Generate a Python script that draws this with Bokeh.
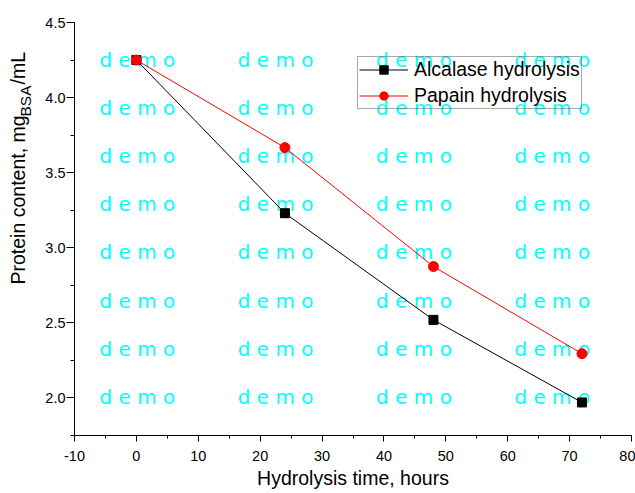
from bokeh.plotting import figure
from bokeh.models import (Range1d, SingleIntervalTicker, NumeralTickFormatter,
                          Legend, LegendItem, Label)
from bokeh.layouts import row
from bokeh.embed import file_html
from bokeh.resources import INLINE
import math

# ---- data ----
time_h = [0, 24, 48, 72]
alcalase = [4.25, 3.23, 2.52, 1.97]
papain = [4.25, 3.667, 2.875, 2.295]
series_names = ["Alcalase hydrolysis", "Papain hydrolysis"]
x_label = "Hydrolysis time, hours"
y_label_main = "Protein content, mg"
y_label_sub = "BSA"
y_label_tail = "/mL"
watermark = "d e m o"

FONT = "Liberation Sans"
H = 493
LEFT_W = 42

# ---- main plot ----
p = figure(width=635 - LEFT_W, height=H, output_backend="svg", toolbar_location=None,
           x_range=Range1d(-10, 80), y_range=Range1d(1.75, 4.5),
           min_border_left=74 - LEFT_W, min_border_right=4, min_border_top=22,
           min_border_bottom=58)
p.outline_line_color = None
p.xgrid.visible = False
p.ygrid.visible = False
p.background_fill_color = "white"
p.border_fill_color = "white"

xa = p.xaxis[0]
xa.ticker = SingleIntervalTicker(interval=10, num_minor_ticks=2)
xa.formatter = NumeralTickFormatter(format="0")
ya = p.yaxis[0]
ya.ticker = SingleIntervalTicker(interval=0.5, num_minor_ticks=2)
ya.formatter = NumeralTickFormatter(format="0.0")
for ax in (xa, ya):
    ax.axis_line_color = "black"
    ax.major_tick_line_color = "black"
    ax.minor_tick_line_color = "black"
    ax.major_tick_in = 0
    ax.minor_tick_in = 0
    ax.major_label_text_font = FONT
    ax.major_label_text_font_size = "14.5px"
    ax.major_label_text_color = "black"
xa.major_tick_out = 6
xa.minor_tick_out = 3
ya.major_tick_out = 8
ya.minor_tick_out = 4
xa.major_label_standoff = 9
ya.major_label_standoff = 1
xa.axis_label = x_label
xa.axis_label_text_font = FONT
xa.axis_label_text_font_size = "19.5px"
xa.axis_label_text_font_style = "normal"
xa.axis_label_text_color = "black"
xa.axis_label_standoff = 3

# watermark (under the data)
for col in range(4):
    for r in range(8):
        p.add_layout(Label(x=25 + col * 138.3, y=376 - r * 48.2,
                           x_units="screen", y_units="screen",
                           text=watermark, text_color="#00FFFF",
                           text_font="DejaVu Sans", text_font_size="20px",
                           text_baseline="alphabetic", level="underlay"))

# data
l1 = p.line(time_h, alcalase, line_color="black", line_width=1)
s1 = p.scatter(time_h, alcalase, marker="square", size=9,
               fill_color="black", line_color="black")
l2 = p.line(time_h, papain, line_color="red", line_width=1)
s2 = p.scatter(time_h, papain, marker="circle", size=10,
               fill_color="red", line_color="red")

legend = Legend(items=[LegendItem(label=series_names[0], renderers=[l1, s1]),
                       LegendItem(label=series_names[1], renderers=[l2, s2])],
                location=(283, 326), margin=0, padding=1, spacing=3,
                glyph_width=49, glyph_height=21, label_height=21,
                label_standoff=6,
                label_text_font=FONT, label_text_font_size="19.5px",
                label_text_color="black",
                border_line_color="#555555", border_line_width=1,
                background_fill_alpha=0)
p.add_layout(legend)

# ---- narrow strip holding the y-axis title (with subscript) ----
q = figure(width=LEFT_W, height=H, output_backend="svg", toolbar_location=None,
           x_range=Range1d(0, 1), y_range=Range1d(0, 1),
           x_axis_location=None, y_axis_location=None,
           min_border_left=0, min_border_right=0, min_border_top=0,
           min_border_bottom=0)
q.grid.visible = False
q.outline_line_color = None
q.background_fill_color = "white"
q.border_fill_color = "white"

base_x = 17
base_y = H - 342
q.add_layout(Label(x=base_x, y=base_y, x_units="screen", y_units="screen",
                   text=y_label_main, angle=math.pi / 2, text_font=FONT,
                   text_font_size="19.5px", text_color="black",
                   text_baseline="alphabetic", text_align="left"))
q.add_layout(Label(x=base_x + 8, y=base_y + 168, x_units="screen", y_units="screen",
                   text=y_label_sub, angle=math.pi / 2, text_font=FONT,
                   text_font_size="15.5px", text_color="black",
                   text_baseline="alphabetic", text_align="left"))
q.add_layout(Label(x=base_x, y=base_y + 200, x_units="screen", y_units="screen",
                   text=y_label_tail, angle=math.pi / 2, text_font=FONT,
                   text_font_size="19.5px", text_color="black",
                   text_baseline="alphabetic", text_align="left"))

layout = row(q, p)
open("out.html", "w").write(file_html(layout, INLINE))
